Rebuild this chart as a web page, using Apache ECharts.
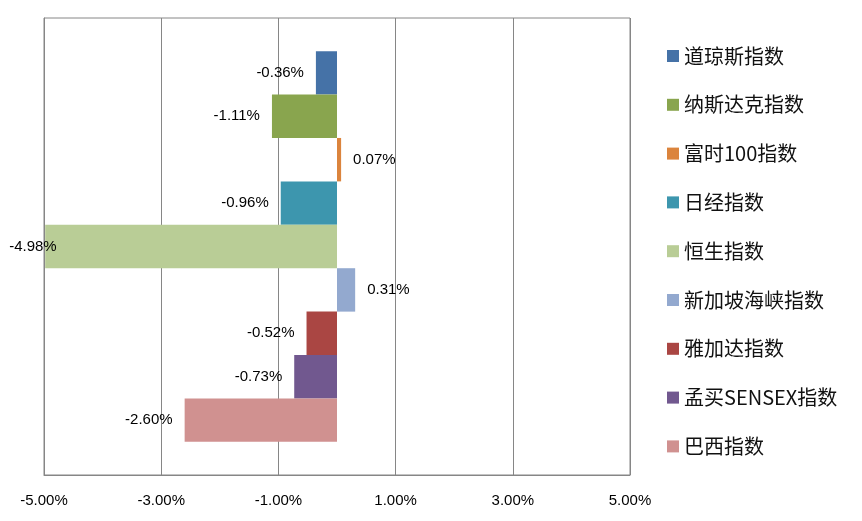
<!DOCTYPE html>
<html><head><meta charset="utf-8">
<script src="https://cdn.jsdelivr.net/npm/echarts@6/dist/echarts.min.js"></script>
<style>html,body{margin:0;padding:0;background:#fff}#c{width:862px;height:521px}</style>
</head><body><div id="c"></div>
<script>
const seriesNames = ['道琼斯指数','纳斯达克指数','富时100指数','日经指数','恒生指数','新加坡海峡指数','雅加达指数','孟买SENSEX指数','巴西指数'];
const seriesValues = [-0.36, -1.11, 0.07, -0.96, -4.98, 0.31, -0.52, -0.73, -2.60];
const seriesColors = ['#4572A7','#89A54E','#DB843D','#3D96AE','#B9CD96','#93A9CF','#AA4643','#71588F','#D09190'];
const categories = [''];
const xTicks = {min: -5, max: 5, interval: 2};

const chart = echarts.init(document.getElementById('c'));
const FONT = '"Liberation Sans", Arial, sans-serif';
const series = seriesNames.map((name, i) => {
  const v = seriesValues[i];
  let pos = v < 0 ? 'left' : 'right';
  const lbl = {show: true, position: pos, distance: 12, color: '#000', fontSize: 15, fontFamily: FONT,
    formatter: p => p.value.toFixed(2) + '%'};
  if (v < -4.5) { lbl.position = 'insideLeft'; lbl.offset = [-48, 0]; }
  return {
    name, type: 'bar', data: [v], barGap: 0, barCategoryGap: '14.5%',
    itemStyle: {color: seriesColors[i]}, label: lbl
  };
});
chart.setOption({
  animation: false,
  grid: {left: 44, right: 232, top: 18, bottom: 46, show: true, borderColor: '#868686', borderWidth: 1},
  legend: {
    orient: 'vertical', left: 667, top: 46, padding: 0, itemWidth: 12, itemHeight: 12, itemGap: 28.8,
    icon: 'rect', textStyle: {fontSize: 20, color: '#111', fontFamily: '"Noto Sans CJK SC", sans-serif'},
    data: seriesNames
  },
  xAxis: {
    type: 'value', min: xTicks.min, max: xTicks.max, interval: xTicks.interval,
    axisLine: {show: true, lineStyle: {color: '#868686'}}, axisTick: {show: false},
    splitLine: {show: true, lineStyle: {color: '#868686'}},
    axisLabel: {color: '#000', fontSize: 15, fontFamily: FONT, margin: 18, formatter: v => v.toFixed(2) + '%'}
  },
  yAxis: {
    type: 'category', data: categories, inverse: true,
    axisLine: {show: true, onZero: false, lineStyle: {color: '#868686'}}, axisTick: {show: false}, axisLabel: {show: false}
  },
  series
});
</script></body></html>
